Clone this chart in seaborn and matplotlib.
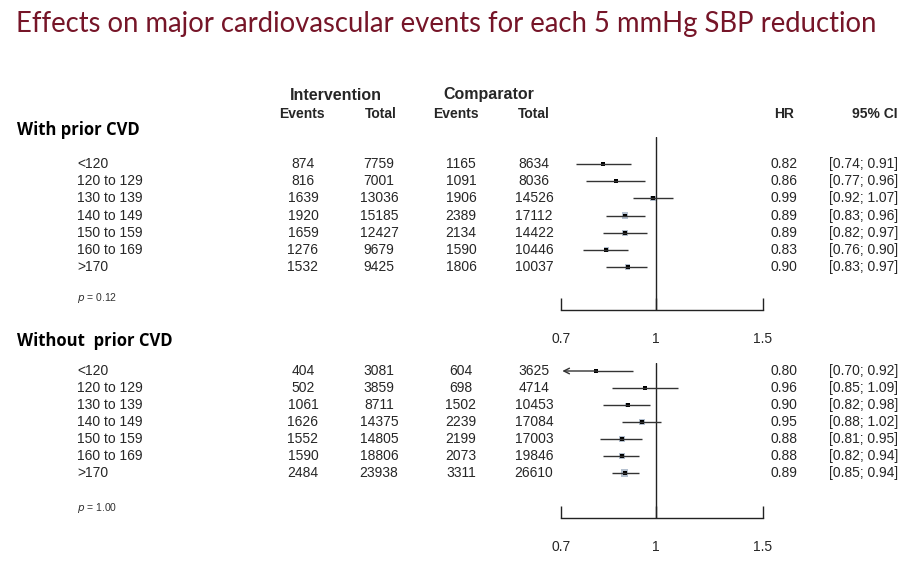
import numpy as np
import pandas as pd
import seaborn as sns
import matplotlib.pyplot as plt

# SBP categories
groups = ["<120", "120 to 129", "130 to 139", "140 to 149", "150 to 159", "160 to 169", ">170"]

# With prior CVD
prior_int_events = [874, 816, 1639, 1920, 1659, 1276, 1532]
prior_int_total = [7759, 7001, 13036, 15185, 12427, 9679, 9425]
prior_cmp_events = [1165, 1091, 1906, 2389, 2134, 1590, 1806]
prior_cmp_total = [8634, 8036, 14526, 17112, 14422, 10446, 10037]
prior_hr = [0.82, 0.86, 0.99, 0.89, 0.89, 0.83, 0.90]
prior_lo = [0.74, 0.77, 0.92, 0.83, 0.82, 0.76, 0.83]
prior_hi = [0.91, 0.96, 1.07, 0.96, 0.97, 0.90, 0.97]
prior_p = "0.12"

# Without prior CVD
noprior_int_events = [404, 502, 1061, 1626, 1552, 1590, 2484]
noprior_int_total = [3081, 3859, 8711, 14375, 14805, 18806, 23938]
noprior_cmp_events = [604, 698, 1502, 2239, 2199, 2073, 3311]
noprior_cmp_total = [3625, 4714, 10453, 17084, 17003, 19846, 26610]
noprior_hr = [0.80, 0.96, 0.90, 0.95, 0.88, 0.88, 0.89]
noprior_lo = [0.70, 0.85, 0.82, 0.88, 0.81, 0.82, 0.85]
noprior_hi = [0.92, 1.09, 0.98, 1.02, 0.95, 0.94, 0.94]
noprior_p = "1.00"

x_ticks = [0.7, 1, 1.5]
x_ticklabels = ["0.7", "1", "1.5"]

sns.set_style("white")
plt.rcParams['font.family'] = ['Liberation Sans', 'DejaVu Sans']

W, H = 908, 563
fig = plt.figure(figsize=(W / 100, H / 100), dpi=100)
bg = fig.add_axes([0, 0, 1, 1])
bg.set_xlim(0, W)
bg.set_ylim(H, 0)
bg.axis('off')

title_col = '#761528'
bold_font = ['Open Sans', 'DejaVu Sans']

bg.text(16, 24, "Effects on major cardiovascular events for each 5 mmHg SBP reduction",
        fontsize=19.8, color=title_col, va='center', ha='left', family=['Lato', 'DejaVu Sans'])

# column headers
bg.text(336, 95, "Intervention", fontsize=11.5, fontweight='bold', ha='center', va='center')
bg.text(489, 95, "Comparator", fontsize=11.5, fontweight='bold', ha='center', va='center')
for xc, lab in [(302, "Events"), (381, "Total"), (456, "Events"), (534, "Total"), (784, "HR")]:
    bg.text(xc, 114, lab, fontsize=10, fontweight='bold', ha='center', va='center')
bg.text(898, 114, "95% CI", fontsize=10, fontweight='bold', ha='right', va='center')

col_x = [303, 379, 461, 534]


def draw_panel(title, title_y, row0, step, ax_top, ax_bot, p_y, ie, it, ce, ct, hr, lo, hi, pval):
    bg.text(17, title_y, title, fontsize=12, fontweight='bold', ha='left', va='center',
            family=bold_font, color='black')
    rows_y = [row0 + i * step for i in range(len(groups))]
    for i, g in enumerate(groups):
        y = rows_y[i]
        bg.text(77, y, g, fontsize=10, ha='left', va='center')
        for xc, v in zip(col_x, [ie[i], it[i], ce[i], ct[i]]):
            bg.text(xc, y, str(v), fontsize=10, ha='center', va='center')
        bg.text(784, y, "%.2f" % hr[i], fontsize=10, ha='center', va='center')
        bg.text(898, y, "[%.2f; %.2f]" % (lo[i], hi[i]), fontsize=10, ha='right', va='center')
    bg.text(77, p_y, "$p$ = " + pval, fontsize=7.5, ha='left', va='center', color='#333333')

    ax = fig.add_axes([561 / W, 1 - ax_bot / H, 202 / W, (ax_bot - ax_top) / H])
    ax.set_xscale('log')
    ax.set_xlim(x_ticks[0], x_ticks[-1])
    ax.set_ylim(ax_bot, ax_top)
    ax.patch.set_alpha(0)
    for s in ['top', 'right', 'left']:
        ax.spines[s].set_visible(False)
    ax.spines['bottom'].set_color('#222222')
    ax.spines['bottom'].set_linewidth(1)
    ax.set_yticks([])
    ax.set_xticks(x_ticks)
    ax.set_xticklabels(x_ticklabels)
    ax.minorticks_off()
    ax.tick_params(axis='x', direction='in', length=9, width=1, pad=16, labelsize=10,
                   color='#222222', bottom=True)
    ax.axvline(1, color='#222222', lw=1)

    df = pd.DataFrame({'hr': hr, 'lo': lo, 'hi': hi, 'y': rows_y,
                       'ev': np.array(ie) + np.array(ce)})
    xmin = x_ticks[0]
    for _, r in df.iterrows():
        if r['lo'] <= xmin:
            ax.hlines(r['y'], r['hr'], r['hi'], color='#333333', lw=1)
            ax.annotate("", xy=(xmin * 1.005, r['y']), xytext=(r['hr'], r['y']),
                        arrowprops=dict(arrowstyle='->', color='#333333', lw=1,
                                        shrinkA=0, shrinkB=0), annotation_clip=False)
        else:
            ax.hlines(r['y'], r['lo'], r['hi'], color='#333333', lw=1)
    sns.scatterplot(data=df, x='hr', y='y', size='ev', sizes=(2, 28), size_norm=(800, 5800),
                    marker='s', color='#b4c0cf', edgecolor='none', legend=False, ax=ax)
    sns.scatterplot(data=df, x='hr', y='y', marker='s', s=8, color='black',
                    edgecolor='none', legend=False, ax=ax)
    ax.set_xlabel("")
    ax.set_ylabel("")


draw_panel("With prior CVD", 130, 164, 17.17, 137, 310, 298,
           prior_int_events, prior_int_total, prior_cmp_events, prior_cmp_total,
           prior_hr, prior_lo, prior_hi, prior_p)
draw_panel("Without  prior CVD", 341, 371, 17.0, 363, 518, 508,
           noprior_int_events, noprior_int_total, noprior_cmp_events, noprior_cmp_total,
           noprior_hr, noprior_lo, noprior_hi, noprior_p)

fig.savefig("out.png", dpi=100, facecolor='white')
